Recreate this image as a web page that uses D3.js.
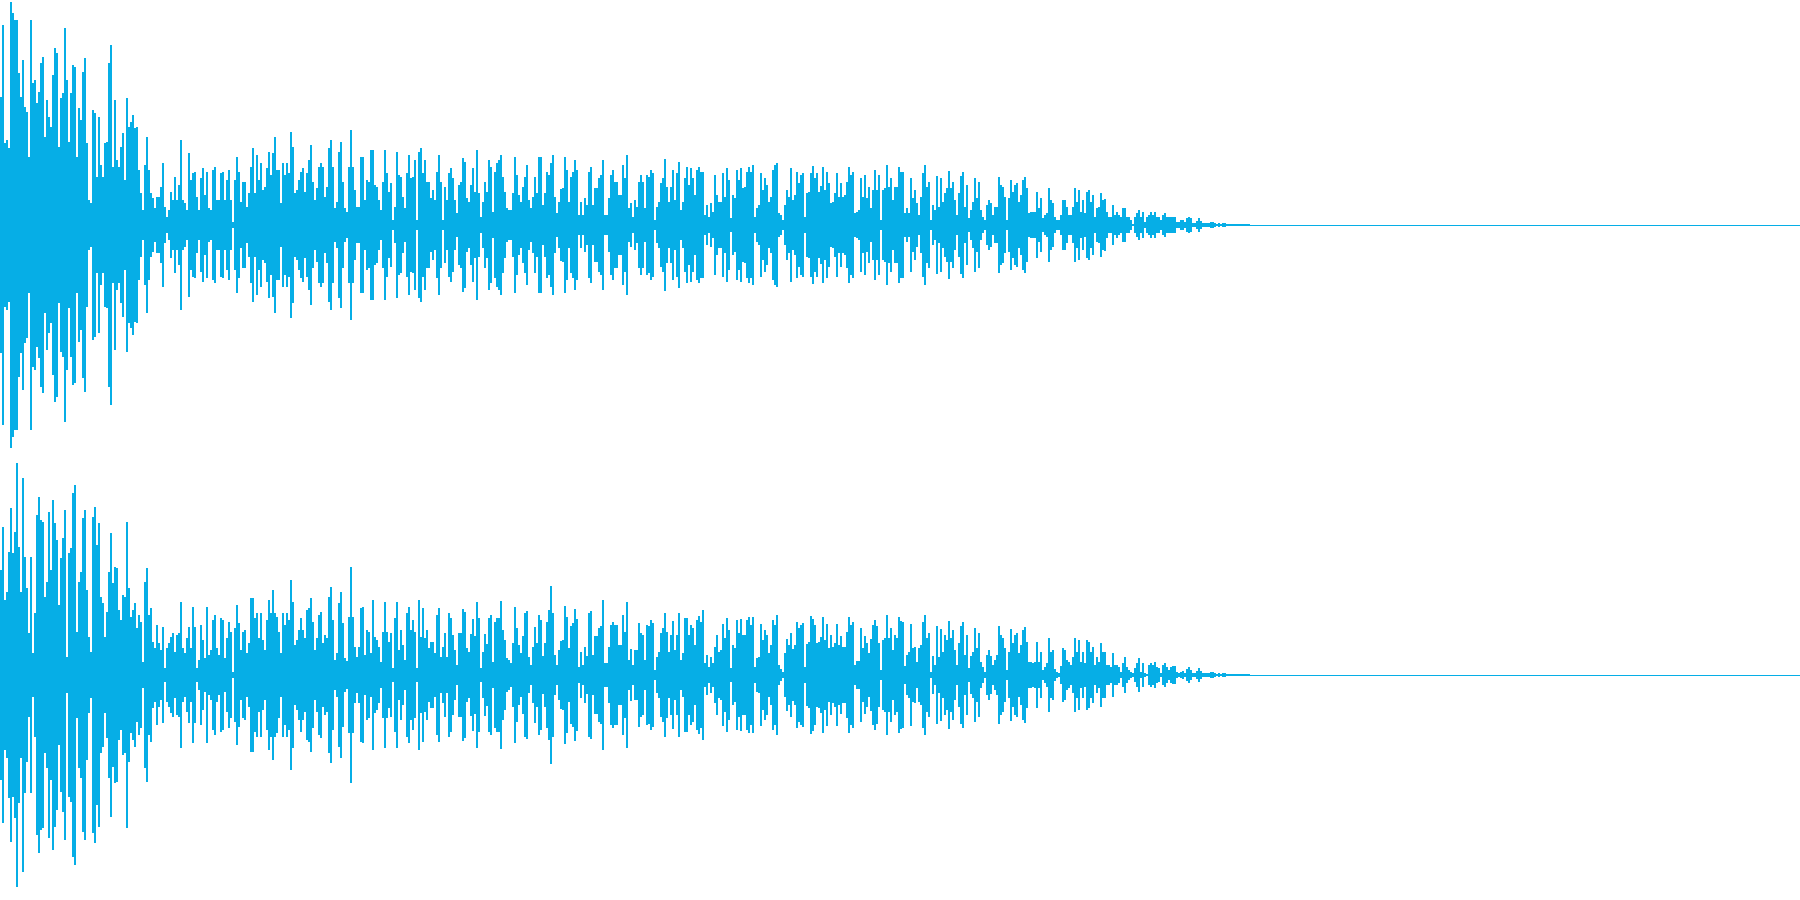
<!DOCTYPE html>
<html>
<head>
<meta charset="utf-8">
<script src="https://cdn.jsdelivr.net/npm/d3@7/dist/d3.min.js"></script>
<style>html,body{margin:0;padding:0;background:#fff;overflow:hidden}svg{display:block}</style>
</head>
<body>
<script>
const waveColor = "#06AEE6";
// peak level per 2-pixel column (arbitrary level units, full scale 675)
const upperChannel = [
385,600,245,255,230,670,635,615,615,455,385,495,355,340,205,615,425,435,365,400,485,505,265,375,325,295,450,530,515,235,380,395,590,435,250,395,480,475,205,350,315,460,500,245,75,65,345,335,145,325,180,145,245,250,485,540,175,375,195,175,235,275,135,380,295,310,330,290,295,165,95,45,180,265,165,95,80,50,85,85,115,185,55,25,45,100,75,145,75,120,255,75,65,45,215,135,155,160,
85,45,140,170,90,160,50,45,165,175,75,75,155,160,75,135,165,75,10,135,205,160,70,130,130,55,95,175,230,95,210,135,185,105,115,170,220,150,215,265,165,165,65,185,150,185,155,280,235,95,105,135,160,170,100,155,195,240,130,75,110,175,185,175,85,115,230,255,175,50,70,220,250,130,50,40,175,285,175,105,55,55,205,205,75,135,130,225,225,120,115,75,45,130,225,155,100,125,15,55,220,150,145,85,50,155,210,140,145,195,15,220,230,155,195,130,130,80,105,75,160,210,130,15,115,75,155,170,
140,75,35,120,130,200,190,80,70,120,170,100,225,95,25,70,130,100,195,175,40,160,185,195,210,145,100,50,45,45,95,205,150,90,70,115,145,180,75,50,85,143,95,205,205,60,95,160,150,185,210,85,35,70,107,110,205,165,70,145,160,195,165,30,70,30,80,60,160,175,60,110,110,140,150,195,30,30,80,150,165,130,130,90,90,180,140,210,50,65,25,75,55,130,150,130,50,150,145,165,155,15,55,70,125,140,197,115,70,115,165,75,155,190,45,70,140,175,120,170,140,90,165,175,160,160,30,60,25,65,40,150,90,70,70,155,85,170,135,20,90,80,165,135,170,110,115,160,175,160,180,25,50,60,155,105,140,120,70,85,165,180,185,35,30,15,60,105,85,170,75,90,160,125,150,155,25,95,100,155,177,140,155,100,117,175,105,160,125,65,70,95,155,85,125,85,90,130,175,150,160,35,40,45,140,85,150,80,115,50,105,165,105,150,15,105,110,180,115,140,75,115,115,175,160,
160,35,50,35,140,80,105,65,30,85,155,180,115,130,15,60,45,147,55,140,70,95,110,163,110,130,75,30,95,147,160,55,120,20,45,70,140,80,130,45,25,15,60,75,65,30,55,55,145,120,115,85,15,80,135,100,120,125,70,90,135,143,110,35,40,40,40,100,50,80,20,30,35,110,75,65,25,15,15,30,75,75,55,30,30,55,110,70,105,40,75,35,100,105,70,90,25,50,55,95,75,77,40,25,25,60,30,40,30,25,50,50,25,25,15,3,25,35,45,25,40,10,25,30,40,30,40,25,25,15,30,35,25,25,25,25,25,10,8,15,15,10,22,25,20,7,7,13,20,13,5,5,5,5,9,9,7,3,7,3,7,7,3,3,4,4,4,4,4,2,4,4,4,4
];
const lowerChannel = [
315,445,225,250,370,500,365,430,635,385,250,590,355,260,125,355,65,185,480,535,465,460,235,280,490,315,525,455,405,210,350,410,495,55,365,380,545,570,130,280,310,470,495,255,115,70,475,505,390,455,235,215,115,190,310,425,275,325,320,195,165,240,235,460,260,175,195,215,140,180,160,40,280,320,180,200,100,80,150,95,75,145,20,80,95,115,125,70,120,125,220,80,65,110,145,80,205,145,
20,45,150,105,50,205,60,75,165,180,80,60,170,165,50,110,160,130,10,140,210,155,75,130,135,65,95,230,230,170,185,110,185,105,75,165,225,185,255,185,175,130,65,185,150,185,165,285,220,90,105,135,170,135,110,195,200,230,160,75,110,180,188,95,120,110,235,265,165,45,65,215,250,155,50,43,175,325,175,85,55,85,200,205,60,135,130,65,225,115,105,85,40,130,220,130,100,125,20,170,220,75,135,90,45,185,205,135,165,130,20,225,115,200,110,135,80,100,100,65,180,200,55,85,125,55,185,170,
120,75,30,125,125,197,190,80,70,123,168,117,220,170,20,70,123,93,170,180,40,160,170,170,222,135,105,50,45,35,95,203,140,90,65,117,185,192,55,30,85,143,95,180,165,57,95,160,195,267,185,60,30,75,103,105,207,175,80,147,155,197,167,25,70,30,83,57,185,192,60,117,117,140,147,225,35,35,85,150,158,150,150,90,90,180,130,220,45,77,30,75,75,157,125,120,45,150,147,165,155,15,55,70,125,140,185,130,70,120,163,75,120,185,45,65,170,170,120,150,140,90,165,177,160,195,35,60,25,55,35,85,120,70,75,153,110,170,135,20,90,80,165,125,168,120,120,165,175,150,175,25,50,53,153,105,135,120,65,90,165,150,180,30,17,8,65,107,90,125,77,90,160,140,150,155,25,93,100,177,167,150,95,100,115,175,105,153,80,120,83,95,153,90,118,85,85,130,173,150,160,30,43,43,140,80,117,95,65,107,150,165,147,95,15,105,110,180,110,140,75,120,110,175,162,
160,27,60,70,153,80,85,40,80,90,160,180,110,125,10,57,30,147,55,137,70,120,105,163,110,135,75,30,95,147,160,60,120,20,57,70,140,80,125,40,25,10,60,75,57,30,45,60,147,120,110,80,15,70,137,95,120,125,65,90,135,143,100,40,40,35,40,100,40,70,15,25,35,110,70,75,17,10,7,27,80,75,45,40,30,55,110,70,105,40,70,35,105,100,70,85,30,55,40,95,70,70,30,30,25,65,30,30,25,10,35,53,23,15,10,7,20,35,50,10,35,5,3,30,37,30,40,25,20,5,30,37,25,15,25,27,27,10,5,10,13,7,17,25,15,7,5,13,20,13,5,5,5,5,9,9,7,3,7,3,7,7,3,3,4,4,4,4,4,2,4,4,4,4
];
const levelDomain = [-675, 675];

const svg = d3.select("body").append("svg").attr("width", 1800).attr("height", 900);
const x = d3.scaleLinear().domain([0, 900]).range([0, 1800]);
const channels = [
  {values: upperChannel, range: [450, 0]},
  {values: lowerChannel, range: [900, 450]}
];
channels.forEach(ch => {
  const y = d3.scaleLinear().domain(levelDomain).range(ch.range);
  const area = d3.area()
    .x((d, i) => x(i))
    .y0(d => y(-d))
    .y1(d => y(d))
    .curve(d3.curveStepAfter);
  svg.append("path")
    .datum(ch.values.concat([0]))
    .attr("d", area)
    .attr("fill", waveColor)
    .attr("shape-rendering", "crispEdges");
  svg.append("line")
    .attr("x1", x(0)).attr("x2", x(900))
    .attr("y1", y(0) + 0.5).attr("y2", y(0) + 0.5)
    .attr("stroke", waveColor).attr("stroke-width", 1)
    .attr("shape-rendering", "crispEdges");
});
</script>
</body>
</html>
